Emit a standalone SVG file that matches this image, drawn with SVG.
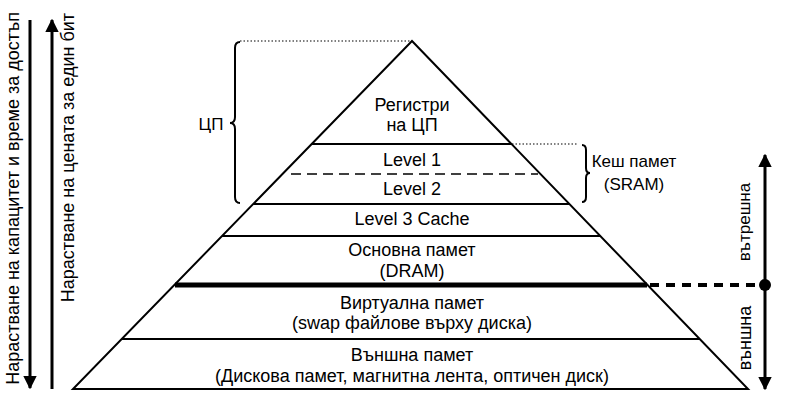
<svg xmlns="http://www.w3.org/2000/svg" width="785" height="405" viewBox="0 0 785 405">
<style>
text{font-family:"Liberation Sans",Arial,sans-serif;font-size:18px;fill:#000}
.c{text-anchor:middle}
.s{font-size:17px}
.ln{stroke:#000;stroke-width:2;fill:none}
.dot{stroke:#000;stroke-width:1.2;stroke-dasharray:1.5 2;fill:none}
.arr{stroke:#000;stroke-width:3;fill:none}
</style>
<defs>
<marker id="ah" viewBox="0 0 10 10" refX="9" refY="5" markerWidth="4.5" markerHeight="4.5" markerUnits="strokeWidth" orient="auto">
<path d="M0,0 L10,5 L0,10 Z" fill="#000"/>
</marker>
</defs>
<rect width="785" height="405" fill="#fff"/>
<g id="pyramid">
<polygon points="412,41 73,389 748,389" class="ln"/>
<line x1="311.7" y1="144" x2="511.5" y2="144" class="ln"/>
<line x1="291" y1="174" x2="538" y2="174" stroke="#000" stroke-width="1.5" stroke-dasharray="10 6"/>
<line x1="253.2" y1="204" x2="569.5" y2="204" class="ln"/>
<line x1="222.1" y1="236" x2="600.4" y2="236" class="ln"/>
<line x1="175" y1="285" x2="647" y2="285" stroke="#000" stroke-width="5"/>
<line x1="121.7" y1="339" x2="699.9" y2="339" class="ln"/>
</g>
<g id="n-registers"><text class="c" x="412" y="111">Регистри</text><text class="c" x="412" y="131">на ЦП</text></g>
<g id="n-l1"><text class="c" x="412" y="166">Level 1</text></g>
<g id="n-l2"><text class="c" x="412" y="195">Level 2</text></g>
<g id="n-l3"><text class="c" x="412" y="225">Level 3 Cache</text></g>
<g id="n-ram"><text class="c" x="412" y="256">Основна памет</text><text class="c" x="412" y="277">(DRAM)</text></g>
<g id="n-virtual"><text class="c" x="412" y="309">Виртуална памет</text><text class="c" x="412" y="329">(swap файлове върху диска)</text></g>
<g id="n-external"><text class="c" x="412" y="361">Външна памет</text><text class="c" x="412" y="382">(Дискова памет, магнитна лента, оптичен диск)</text></g>
<g id="cpu-brace">
<line x1="240" y1="41" x2="412" y2="41" class="dot"/>
<path d="M240,42 Q235,42 235,48 L235,117 Q235,123 230,123 Q235,123 235,129 L235,197 Q235,203 240,203" class="ln" stroke-width="1.2"/>
<text class="c s" x="211" y="130">ЦП</text>
</g>
<g id="cache-brace">
<line x1="512" y1="144" x2="578" y2="144" class="dot"/>
<path d="M582,145 Q586,145 586,150 L586,168 Q586,173 590,173 Q586,173 586,178 L586,197 Q586,202 582,202" class="ln" stroke-width="1.2"/>
<text class="c s" x="634" y="167">Кеш памет</text>
<text class="c s" x="634" y="190">(SRAM)</text>
</g>
<g id="connectors">
<line x1="30" y1="20" x2="30" y2="388" class="arr" marker-end="url(#ah)"/>
<line x1="52" y1="389" x2="52" y2="20" class="arr" marker-end="url(#ah)"/>
<line x1="650" y1="285" x2="759" y2="285" stroke="#000" stroke-width="4" stroke-dasharray="9 7"/>
<line x1="765" y1="285" x2="765" y2="155" class="arr" marker-end="url(#ah)"/>
<line x1="765" y1="285" x2="765" y2="389" class="arr" marker-end="url(#ah)"/>
<circle cx="765" cy="285" r="6" fill="#000"/>
</g>
<g id="labels">
<text transform="translate(19,12) rotate(-90)" text-anchor="end">Нарастване на капацитет и време за достъп</text>
<text transform="translate(74,13) rotate(-90)" text-anchor="end">Нарастване на цената за един бит</text>
<text class="c s" transform="translate(750,222) rotate(-90)">вътрешна</text>
<text class="c" transform="translate(751,338) rotate(-90)">външна</text>
</g>
</svg>
